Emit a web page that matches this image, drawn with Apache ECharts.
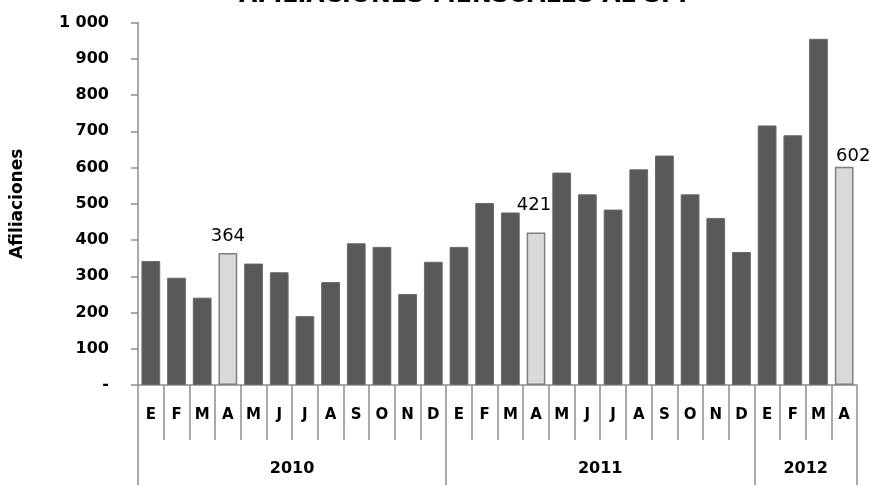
<!DOCTYPE html>
<html>
<head>
<meta charset="utf-8">
<script src="https://cdn.jsdelivr.net/npm/echarts@6/dist/echarts.min.js"></script>
<style>
  html, body { margin: 0; padding: 0; background: #ffffff; }
  #chart { width: 870px; height: 486px; }
</style>
</head>
<body>
<div id="chart"></div>
<script>
// ---- data ----
const titleText = 'AFILIACIONES MENSUALES AL SPP';
const yAxisName = 'Afiliaciones';
const monthLabels = ['E','F','M','A','M','J','J','A','S','O','N','D',
                     'E','F','M','A','M','J','J','A','S','O','N','D',
                     'E','F','M','A'];
const years = ['2010', '2011', '2012'];
const monthsPerYear = [12, 12, 4];
const values2010 = [342, 296, 241, 364, 335, 311, 190, 284, 391, 381, 251, 340];
const values2011 = [381, 502, 476, 421, 586, 526, 484, 595, 633, 526, 461, 367];
const values2012 = [716, 689, 955, 602];
const highlighted = [3, 15, 27]; // April bars (labelled, light grey)
const yTickValues = [0, 100, 200, 300, 400, 500, 600, 700, 800, 900, 1000];
const yTickLabels = ['-', '100', '200', '300', '400', '500', '600', '700', '800', '900', '1 000'];

// ---- styling (separate from data) ----
const labelOffsets = { 3: [0, -3], 15: [-2, -13], 27: [9, 4] };
const values = values2010.concat(values2011, values2012);

const boundaries = [0];
monthsPerYear.forEach(n => boundaries.push(boundaries[boundaries.length - 1] + n));
const yearCenters = years.map((y, i) => (boundaries[i] + boundaries[i + 1]) / 2);

const barData = values.map((v, i) => {
  if (highlighted.indexOf(i) >= 0) {
    return {
      value: v,
      itemStyle: { color: '#d9d9d9', borderColor: '#7f7f7f', borderWidth: 1.5 },
      label: { show: true, offset: labelOffsets[i] || [0, 0] }
    };
  }
  return { value: v };
});

const axisGrey = '#8c8c8c';
const chart = echarts.init(document.getElementById('chart'), null, { renderer: 'canvas' });
chart.setOption({
  animation: false,
  backgroundColor: '#ffffff',
  title: {
    text: titleText,
    left: 239,
    top: -16,
    padding: 0,
    textStyle: { fontFamily: 'DejaVu Sans', fontWeight: 'bold', fontSize: 23.7, color: '#000' }
  },
  grid: { left: 138, right: 13, top: 22.5, bottom: 101 },
  xAxis: [
    {
      type: 'category',
      data: monthLabels,
      position: 'bottom',
      axisLine: { show: true, lineStyle: { color: axisGrey, width: 1.5 } },
      axisTick: { show: true, length: 55, interval: 0, lineStyle: { color: axisGrey, width: 1.5 } },
      axisLabel: { interval: 0, margin: 23, fontFamily: 'DejaVu Sans', fontWeight: 'bold', fontSize: 15, color: '#000' },
      splitLine: { show: false }
    },
    {
      type: 'value',
      min: 0,
      max: boundaries[boundaries.length - 1],
      position: 'bottom',
      axisLine: { show: false },
      axisTick: { show: true, length: 100, customValues: boundaries, lineStyle: { color: axisGrey, width: 1.5 } },
      axisLabel: {
        customValues: yearCenters,
        margin: 76,
        fontFamily: 'DejaVu Sans', fontWeight: 'bold', fontSize: 16, color: '#000',
        formatter: v => years[yearCenters.indexOf(v)] || ''
      },
      splitLine: { show: false }
    }
  ],
  yAxis: {
    type: 'value',
    min: 0,
    max: 1000,
    interval: 100,
    name: yAxisName,
    nameLocation: 'middle',
    nameRotate: 90,
    nameGap: 112,
    nameTextStyle: { fontFamily: 'DejaVu Sans', fontWeight: 'bold', fontSize: 17, color: '#000' },
    axisLine: { show: true, lineStyle: { color: axisGrey, width: 1.5 } },
    axisTick: { show: true, length: 7, lineStyle: { color: axisGrey, width: 1.5 } },
    axisLabel: {
      margin: 29,
      fontFamily: 'DejaVu Sans', fontWeight: 'bold', fontSize: 16, color: '#000',
      formatter: v => yTickLabels[yTickValues.indexOf(v)]
    },
    splitLine: { show: false }
  },
  series: [{
    type: 'bar',
    xAxisIndex: 0,
    data: barData,
    barCategoryGap: '27%',
    itemStyle: { color: '#595959', borderColor: '#6a6a6a', borderWidth: 1 },
    label: {
      show: false,
      position: 'top',
      distance: 5,
      fontFamily: 'DejaVu Sans', fontSize: 18, color: '#000'
    }
  }]
});
</script>
</body>
</html>
